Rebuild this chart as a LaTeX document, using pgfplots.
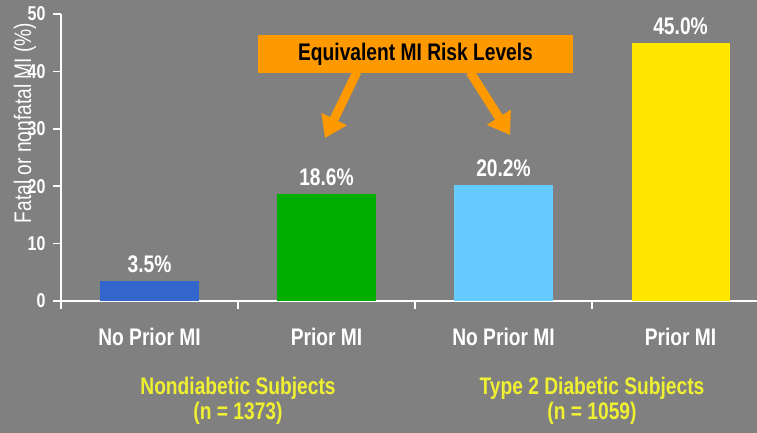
\documentclass[border=0pt]{standalone}
\usepackage{fontspec}
\setmainfont{Liberation Sans}[FakeStretch=0.8]
\usepackage{pgfplots}
\pgfplotsset{compat=1.18}
\usetikzlibrary{arrows.meta}

\definecolor{bg}{RGB}{128,128,128}
\definecolor{cblue}{RGB}{51,102,204}
\definecolor{cgreen}{RGB}{0,174,0}
\definecolor{clight}{RGB}{102,204,255}
\definecolor{cyellow}{RGB}{255,229,0}
\definecolor{corange}{RGB}{255,153,0}
\definecolor{ctext}{RGB}{240,240,50}

\begin{document}
\begin{tikzpicture}
\path[use as bounding box, fill=bg] (0,0) rectangle (757pt,433pt);
\begin{axis}[
    at={(61pt,132pt)}, anchor=south west,
    scale only axis, width=696pt, height=287pt,
    xmin=-0.5, xmax=3.432, ymin=0, ymax=50,
    axis lines*=left,
    axis line style={-, white, line width=1.8pt},
    tick style={white, line width=1.5pt},
    tick align=outside, major tick length=8pt,
    ytick={0,10,20,30,40,50},
    xtick={-0.5,0.5,1.5,2.5}, xticklabels={},
    extra x ticks={0,1,2,3},
    extra x tick labels={No Prior MI,Prior MI,No Prior MI,Prior MI},
    extra x tick style={major tick length=0pt,
        tick label style={font=\fontsize{24}{26}\selectfont\bfseries, yshift=-24pt}},
    /pgf/number format/assume math mode=true,
    ticklabel style={text=white, font=\fontsize{20}{22}\selectfont\bfseries},
    yticklabel style={xshift=-4pt},
    ylabel={Fatal or nonfatal MI (\%)},
    ylabel style={at={(axis description cs:-0.052,0.62)}, anchor=center,
        text=white, font=\fontsize{24}{26}\selectfont},
    ybar, bar width=0.554,
    nodes near coords={\pgfmathprintnumber[fixed,fixed zerofill,precision=1]{\pgfplotspointmeta}\%},
    nodes near coords style={text=white, font=\fontsize{24}{26}\selectfont\bfseries, yshift=4.5pt},
    clip=false,
]
\addplot[fill=cblue, draw=none, bar shift=0pt] coordinates {(0,3.5)};
\addplot[fill=cgreen, draw=none, bar shift=0pt] coordinates {(1,18.6)};
\addplot[fill=clight, draw=none, bar shift=0pt] coordinates {(2,20.2)};
\addplot[fill=cyellow, draw=none, bar shift=0pt] coordinates {(3,45.0)};

\draw[corange, line width=9pt, -{Triangle[length=21pt,width=27pt]}]
    (axis cs:1.172,39.9) -- (axis cs:0.9915,28.40);
\draw[corange, line width=9pt, -{Triangle[length=21pt,width=27pt]}]
    (axis cs:1.811,39.9) -- (axis cs:2.037,28.92);
\node[fill=corange, minimum width=315pt, minimum height=38pt,
    font=\fontsize{24}{26}\selectfont\bfseries, text=black]
    at (axis cs:1.503,43.03) {Equivalent MI Risk Levels};

\node[text=ctext, align=center, font=\fontsize{24}{25}\selectfont\bfseries]
    at ([yshift=-100pt]axis cs:0.5,0) {Nondiabetic Subjects\\(n = 1373)};
\node[text=ctext, align=center, font=\fontsize{24}{25}\selectfont\bfseries]
    at ([yshift=-100pt]axis cs:2.5,0) {Type 2 Diabetic Subjects\\(n = 1059)};
\end{axis}
\end{tikzpicture}
\end{document}
